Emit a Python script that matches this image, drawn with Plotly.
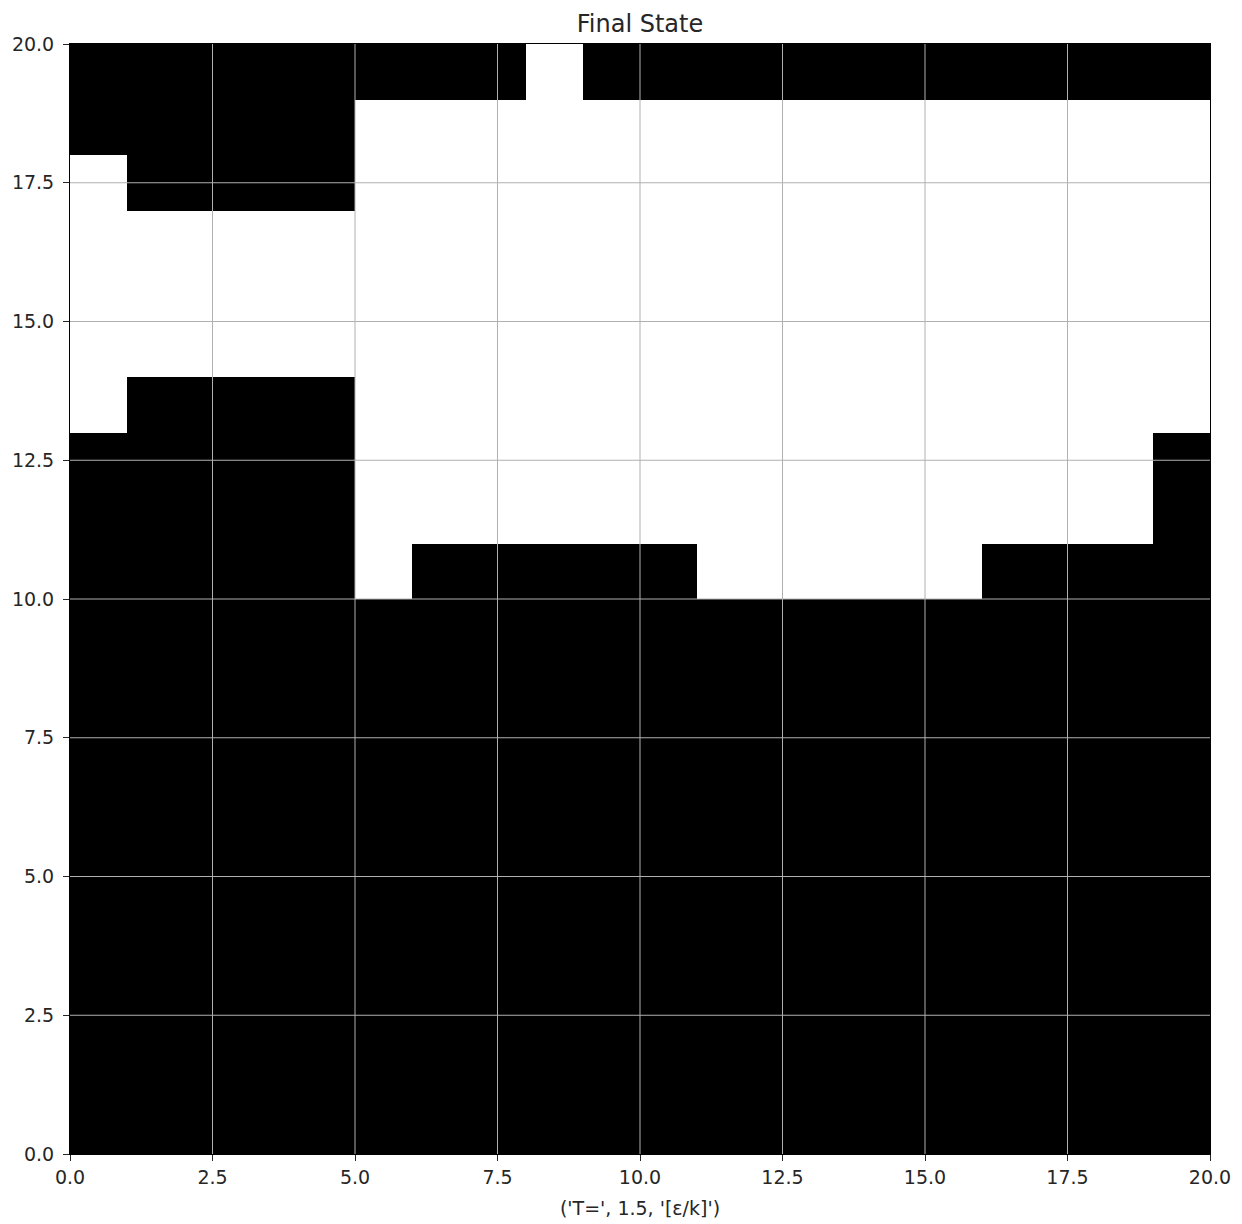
import numpy as np
import plotly.graph_objects as go

# Final spin configuration of the 20x20 Ising lattice.
# '#' = spin down (-1, drawn black), '.' = spin up (+1, drawn white).
# Rows are listed from the top of the lattice (y = 19) down to y = 0.
LATTICE_ROWS_TOP_DOWN = [
    "########.###########",
    "#####...............",
    ".####...............",
    "....................",
    "....................",
    "....................",
    ".####...............",
    "#####..............#",
    "#####..............#",
    "#####.#####.....####",
    "####################",
    "####################",
    "####################",
    "####################",
    "####################",
    "####################",
    "####################",
    "####################",
    "####################",
    "####################",
]

TICK_VALUES = [0.0, 2.5, 5.0, 7.5, 10.0, 12.5, 15.0, 17.5, 20.0]
TICK_LABELS = ["0.0", "2.5", "5.0", "7.5", "10.0", "12.5", "15.0", "17.5", "20.0"]

TITLE = "Final State"
X_LABEL = "('T=', 1.5, '[ε/k]')"

# Spin matrix with row 0 at the bottom
spins = np.array(
    [[-1 if c == "#" else 1 for c in row] for row in reversed(LATTICE_ROWS_TOP_DOWN)]
)
n_rows, n_cols = spins.shape
x_centers = np.arange(n_cols) + 0.5
y_centers = np.arange(n_rows) + 0.5

FONT = "DejaVu Sans"
TEXT_COLOR = "#262626"
GRID_COLOR = "#b0b0b0"

fig = go.Figure(
    go.Heatmap(
        z=spins,
        x=x_centers,
        y=y_centers,
        zmin=-1,
        zmax=1,
        colorscale=[[0, "black"], [1, "white"]],
        showscale=False,
        hoverinfo="skip",
    )
)

# Grid lines drawn over the image
shapes = []
for v in TICK_VALUES[1:-1]:
    shapes.append(dict(type="line", xref="x", yref="y", x0=v, x1=v, y0=0, y1=n_rows,
                       line=dict(color=GRID_COLOR, width=1), layer="above"))
    shapes.append(dict(type="line", xref="x", yref="y", x0=0, x1=n_cols, y0=v, y1=v,
                       line=dict(color=GRID_COLOR, width=1), layer="above"))

axis_common = dict(
    tickmode="array",
    tickvals=TICK_VALUES,
    ticktext=TICK_LABELS,
    ticks="outside",
    ticklen=6,
    tickwidth=1,
    tickcolor=TEXT_COLOR,
    showgrid=False,
    zeroline=False,
    showline=True,
    linecolor="black",
    linewidth=1,
    mirror=True,
    automargin=False,
    tickfont=dict(family=FONT, size=19, color=TEXT_COLOR),
)

fig.update_layout(
    width=1242,
    height=1224,
    margin=dict(l=70, r=32, t=44, b=70),
    paper_bgcolor="white",
    plot_bgcolor="white",
    shapes=shapes,
    title=dict(
        text=TITLE,
        x=0.5,
        xref="paper",
        xanchor="center",
        y=1 - 24 / 1224,
        yref="container",
        yanchor="middle",
        font=dict(family=FONT, size=24, color=TEXT_COLOR),
    ),
    xaxis=dict(
        range=[0, n_cols],
        title=dict(text=X_LABEL, standoff=14,
                   font=dict(family=FONT, size=19, color=TEXT_COLOR)),
        **axis_common,
    ),
    yaxis=dict(range=[0, n_rows], ticklabelstandoff=5, **axis_common),
)

fig.write_html("out.html")
